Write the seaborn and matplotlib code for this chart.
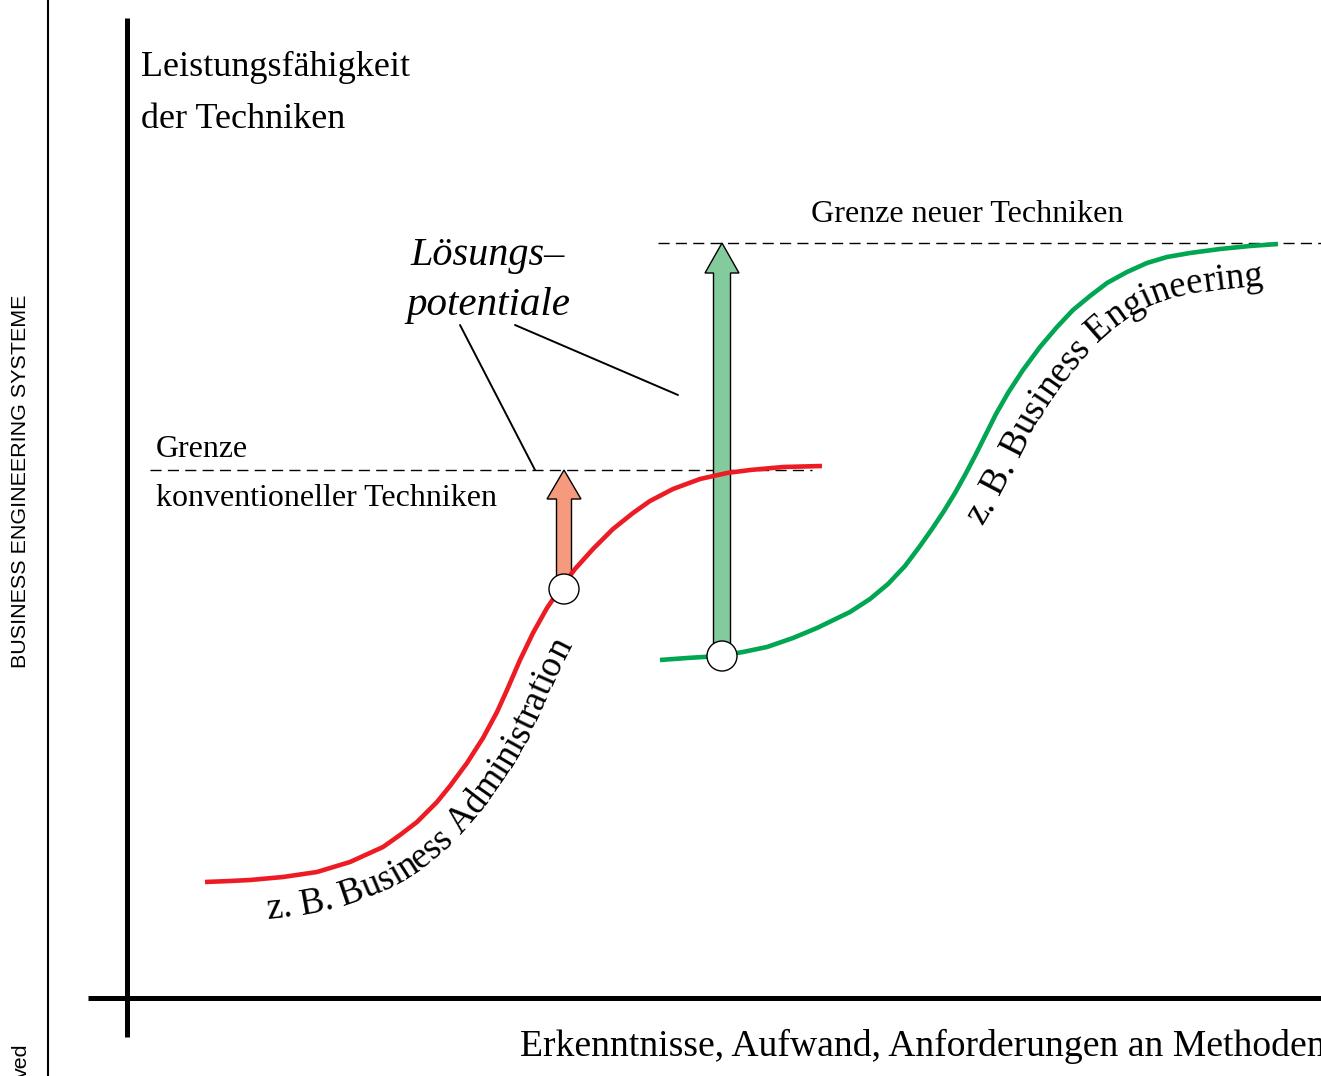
import numpy as np
import pandas as pd
import matplotlib
matplotlib.use("Agg")
import matplotlib.pyplot as plt
import seaborn as sns
from matplotlib.patches import Circle
from matplotlib.font_manager import FontProperties, findfont
from matplotlib.ft2font import FT2Font

# ---------------- data (pixel coordinates) ----------------
red_x = [205, 230, 250, 283, 317, 350, 383, 400, 417, 437, 450, 467, 483, 497,
         507, 520, 533, 547, 560, 575, 593, 613, 633, 650, 673, 700, 727, 750,
         783, 822]
red_y = [882, 881, 880, 877, 872, 862, 847, 835, 822, 802, 786, 763, 738, 712,
         690, 660, 633, 608, 589, 569, 549, 529, 513, 501, 489, 479, 473, 470,
         467, 466]

green_x = [660, 687, 720, 743, 767, 793, 817, 850, 870, 888, 905, 920, 932, 944,
           955, 965, 975, 985, 996, 1008, 1023, 1040, 1057, 1073, 1090, 1107,
           1127, 1147, 1167, 1190, 1220, 1250, 1278]
green_y = [660, 658, 656, 652, 647, 638, 628, 612, 599, 584, 566, 546, 529, 511,
           493, 475, 456, 436, 414, 393, 370, 347, 327, 310, 296, 283, 272, 263,
           257, 253, 249, 246, 244]

limit_conv = 470      # Grenze konventioneller Techniken
limit_new = 243       # Grenze neuer Techniken
start_red = (564, 589)
start_green = (722, 656)

title_lines = ["Leistungsfähigkeit", "der Techniken"]
x_label = "Erkenntnisse, Aufwand, Anforderungen an Methoden"
side_label = "BUSINESS ENGINEERING SYSTEME"
red_label = "z. B. Business Administration"
green_label = "z. B. Business Engineering"

RED = "#ED1C24"
GREEN = "#00A651"
SALMON = "#F59A7C"
LGREEN = "#83CB9C"
SERIF = "Liberation Serif"
SANS = "Liberation Sans"

sns.set_theme(style="white")
plt.rcParams["font.family"] = [SERIF, "DejaVu Serif"]
plt.rcParams["text.color"] = "black"

W, H = 1321, 1076
fig = plt.figure(figsize=(W / 100, H / 100), dpi=100)
ax = fig.add_axes([0, 0, 1, 1])
ax.set_xlim(0, W)
ax.set_ylim(H, 0)
ax.axis("off")


def adv_width(text, family, size_pt, style="normal"):
    fp = FontProperties(family=family, style=style)
    f = FT2Font(findfont(fp))
    f.set_size(size_pt, 100)
    return sum(f.load_char(ord(c)).linearHoriAdvance / 65536.0 for c in text)


def fit(text, target_px, family=SERIF, style="normal"):
    return 10.0 * target_px / adv_width(text, family, 10.0, style)


def put(text, x, y, target, family=SERIF, style="normal", fit_text=None, **kw):
    fs = fit(fit_text or text, target, family, style)
    ax.text(x, y, text, fontsize=fs, family=family, style=style,
            ha="left", va="baseline", color="black", **kw)
    return fs


# ---------------- frame lines ----------------
ax.plot([48, 48], [0, H], color="black", lw=1.5, solid_capstyle="butt")
ax.plot([127, 127], [18, 1037], color="black", lw=3.6, solid_capstyle="butt")
ax.plot([88, W], [998, 998], color="black", lw=3.6, solid_capstyle="butt")

# ---------------- dashed limits ----------------
ax.plot([150, 812], [limit_conv, limit_conv], color="black", lw=1.0,
        dashes=(8, 4.5), zorder=1)
ax.plot([658, W], [limit_new, limit_new], color="black", lw=1.0,
        dashes=(8, 4.5), zorder=1)

# ---------------- arrows ----------------
ax.arrow(start_red[0], start_red[1], 0, limit_conv - start_red[1], width=15,
         head_width=34, head_length=29, length_includes_head=True,
         fc=SALMON, ec="black", lw=1.0, zorder=2)
ax.arrow(start_green[0], start_green[1], 0, limit_new - start_green[1], width=17,
         head_width=34, head_length=30, length_includes_head=True,
         fc=LGREEN, ec="black", lw=1.0, zorder=2)

# ---------------- S-curves (seaborn) ----------------
df_red = pd.DataFrame({"x": red_x, "y": red_y})
df_green = pd.DataFrame({"x": green_x, "y": green_y})
sns.lineplot(data=df_red, x="x", y="y", sort=False, estimator=None, color=RED,
             lw=3.3, ax=ax, zorder=3)
sns.lineplot(data=df_green, x="x", y="y", sort=False, estimator=None, color=GREEN,
             lw=3.3, ax=ax, zorder=3)
for l in ax.lines[-2:]:
    l.set_solid_joinstyle("round")
    l.set_solid_capstyle("butt")
ax.set_xlim(0, W)
ax.set_ylim(H, 0)
ax.axis("off")

# start circles
for (cx, cy) in (start_red, start_green):
    ax.add_patch(Circle((cx, cy), 15, fc="white", ec="black", lw=1.0, zorder=4))

# ---------------- annotation lines ----------------
ax.plot([460, 535], [325, 470], color="black", lw=1.4)
ax.plot([515, 678], [325, 395], color="black", lw=1.4)

# ---------------- texts ----------------
fs_title = put(title_lines[0], 141, 76, 269)
ax.text(141, 128, title_lines[1], fontsize=fs_title, family=SERIF,
        ha="left", va="baseline", color="black")
put("Lösungs–", 410, 265, 154, style="italic")
put("potentiale", 406, 315, 164, style="italic")
put("Grenze neuer Techniken", 811, 222, 315)
put("Grenze", 156, 457, 92)
put("konventioneller Techniken", 156, 506, 342)
put(x_label, 520, 1056, 790, fit_text=x_label[:-1])

# side label (sans, rotated)
fs_side = fit(side_label, 373, SANS)
ax.text(21, 481, side_label, fontsize=fs_side, family=SANS, rotation=90,
        ha="center", va="center", rotation_mode="anchor", color="black")
ax.text(21, 1043, "ved", fontsize=fs_side, family=SANS, rotation=90,
        ha="right", va="center", rotation_mode="anchor", color="black")


# ---------------- text along curves ----------------
def text_on_curve(xs, ys, text, start_xy, end_xy, offset):
    pts = np.column_stack([xs, ys]).astype(float)
    seg = np.hypot(*np.diff(pts, axis=0).T)
    s = np.concatenate([[0], np.cumsum(seg)])
    ss = np.arange(0, s[-1], 1.0)
    px = np.interp(ss, s, pts[:, 0])
    py = np.interp(ss, s, pts[:, 1])
    k = 41
    ker = np.ones(k) / k
    px = np.convolve(np.pad(px, k // 2, mode="edge"), ker, "valid")
    py = np.convolve(np.pad(py, k // 2, mode="edge"), ker, "valid")
    tx = np.gradient(px)
    ty = np.gradient(py)
    n = np.hypot(tx, ty)
    tx, ty = tx / n, ty / n
    ox = px - ty * offset
    oy = py + tx * offset
    os_ = np.concatenate([[0], np.cumsum(np.hypot(np.diff(ox), np.diff(oy)))])
    i0 = np.argmin(np.hypot(ox - start_xy[0], oy - start_xy[1]))
    i1 = np.argmin(np.hypot(ox - end_xy[0], oy - end_xy[1]))
    s0, s1 = os_[i0], os_[i1]
    fs = 10.0 * (s1 - s0) / adv_width(text, SERIF, 10.0)
    f = FT2Font(findfont(FontProperties(family=SERIF)))
    f.set_size(fs, 100)
    pos = s0
    for ch in text:
        w = f.load_char(ord(ch)).linearHoriAdvance / 65536.0
        c = pos + w / 2
        x = np.interp(c, os_, ox)
        y = np.interp(c, os_, oy)
        xa, ya = np.interp(c - w / 2 - 2, os_, ox), np.interp(c - w / 2 - 2, os_, oy)
        xb, yb = np.interp(c + w / 2 + 2, os_, ox), np.interp(c + w / 2 + 2, os_, oy)
        ang = np.degrees(np.arctan2(-(yb - ya), xb - xa))
        if ch != " ":
            ax.text(x, y, ch, fontsize=fs, family=SERIF, rotation=ang,
                    rotation_mode="anchor", ha="center", va="baseline",
                    color="black")
        pos += w


text_on_curve(red_x, red_y, red_label, (268, 920), (585, 652), 40)
text_on_curve(green_x, green_y, green_label, (985, 528), (1262, 281), 40)

fig.savefig("out.png", dpi=100)
